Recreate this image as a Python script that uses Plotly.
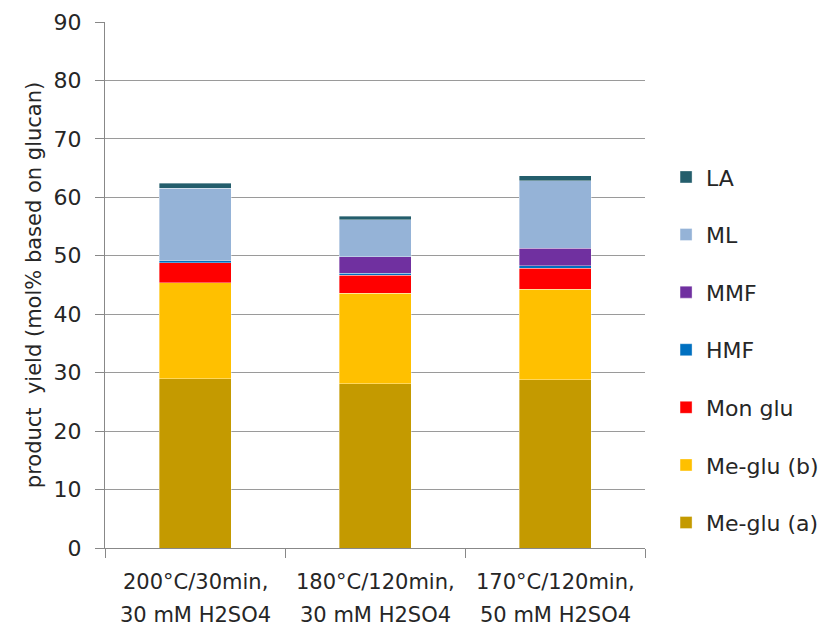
import plotly.graph_objects as go

# Reaction conditions (two label lines per category)
conditions = ["200°C/30min,", "180°C/120min,", "170°C/120min,"]
acid = ["30 mM H2SO4", "30 mM H2SO4", "50 mM H2SO4"]

# Product yields, mol% based on glucan (stacked bottom to top)
me_glu_a = [29.0, 28.1, 28.8]
me_glu_b = [16.4, 15.5, 15.5]
mon_glu = [3.4, 3.1, 3.6]
hmf = [0.35, 0.3, 0.4]
mmf = [0.0, 2.8, 3.0]
ml = [12.4, 6.4, 11.5]
la = [0.9, 0.6, 0.9]

series = [
    ("Me-glu (a)", me_glu_a, "#C49A00"),
    ("Me-glu (b)", me_glu_b, "#FFC000"),
    ("Mon glu", mon_glu, "#FF0000"),
    ("HMF", hmf, "#0070C0"),
    ("MMF", mmf, "#7030A0"),
    ("ML", ml, "#95B3D7"),
    ("LA", la, "#245E6C"),
]

FONT = "DejaVu Sans"
TXT = "#262626"
GRID = "#9A9A9A"
FS = 22

fig = go.Figure()
n = len(series)
for i, (name, vals, color) in enumerate(series):
    fig.add_trace(go.Bar(
        x=conditions, y=vals, name=name, legendgroup=name,
        legendrank=n - i,  # top of the stack listed first
        marker=dict(color=color, line=dict(color="rgba(255,255,255,0.6)", width=0.6)),
        width=0.4,
    ))

# Two-line category labels under the axis
for c, a in zip(conditions, acid):
    fig.add_annotation(x=c, y=0, xref="x", yref="paper", text=c, showarrow=False,
                       yshift=-48, font=dict(family=FONT, size=21, color=TXT))
    fig.add_annotation(x=c, y=0, xref="x", yref="paper", text=a, showarrow=False,
                       yshift=-81, font=dict(family=FONT, size=21, color=TXT))

fig.update_layout(
    width=830, height=629,
    margin=dict(l=105, r=185, t=22, b=81, autoexpand=False),
    paper_bgcolor="white", plot_bgcolor="white",
    barmode="stack",
    font=dict(family=FONT, size=FS, color=TXT),
    showlegend=True,
    legend=dict(
        traceorder="grouped", tracegroupgap=26,
        x=1.039, xanchor="left", y=0.745, yanchor="top",
        font=dict(family=FONT, size=FS, color=TXT),
        bgcolor="rgba(0,0,0,0)",
    ),
    xaxis=dict(
        showticklabels=False, tickson="boundaries", ticks="outside", ticklen=9,
        tickcolor="#888888", showline=True, linecolor="#888888", linewidth=1,
        showgrid=False, range=[-0.5, 2.5],
    ),
    yaxis=dict(
        range=[0, 90], dtick=10, ticks="outside", ticklen=9, tickcolor="#888888",
        showline=True, linecolor="#888888", linewidth=1,
        showgrid=True, gridcolor=GRID, gridwidth=1, zeroline=False,
        tickfont=dict(family=FONT, size=FS, color=TXT),
        ticklabelstandoff=9,
        title=dict(text="product  yield (mol% based on glucan)",
                   font=dict(family=FONT, size=21, color=TXT), standoff=6),
    ),
)

fig.write_html("out.html")
